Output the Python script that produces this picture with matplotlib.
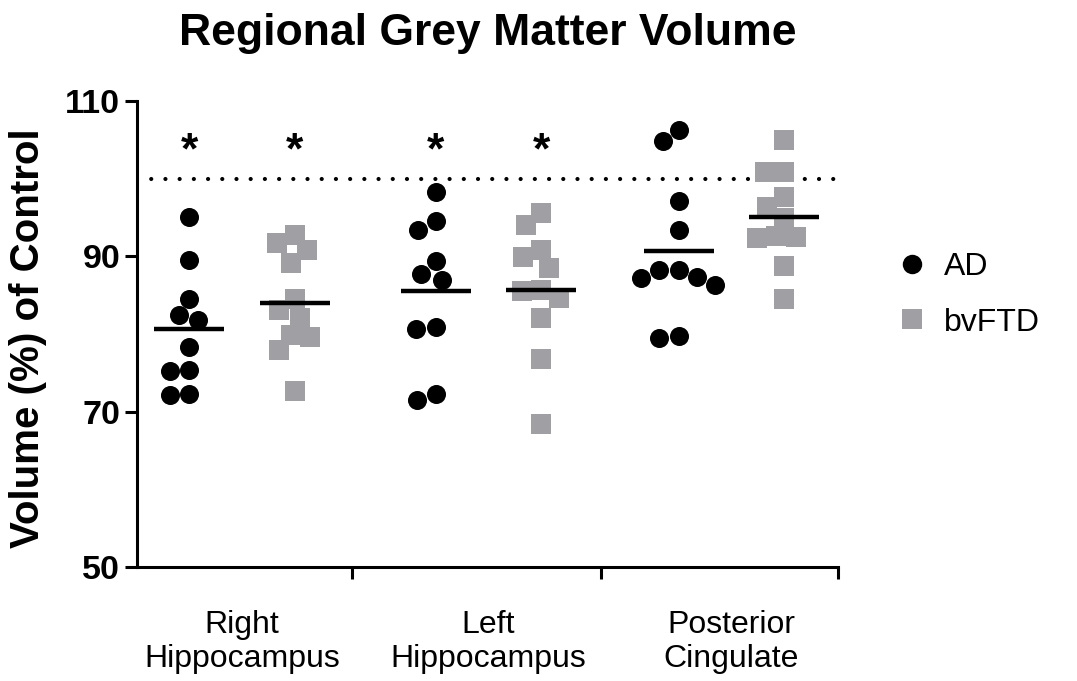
from __future__ import annotations

import matplotlib

matplotlib.use("Agg")
import matplotlib.pyplot as plt
import numpy as np
from matplotlib.lines import Line2D

# ---- data (volume as % of control) ----
regions = ["Right\nHippocampus", "Left\nHippocampus", "Posterior\nCingulate"]
groups = ["AD", "bvFTD"]

rh_ad = [95.0, 89.5, 84.5, 82.4, 81.8, 78.3, 75.2, 75.4, 72.2, 72.3]
rh_bvftd = [92.8, 91.7, 90.8, 89.2, 84.5, 83.1, 82.1, 79.9, 79.6, 77.9, 72.7]
lh_ad = [98.3, 94.5, 93.4, 89.4, 87.7, 87.0, 80.9, 80.7, 72.3, 71.5]
lh_bvftd = [95.6, 94.0, 90.8, 89.9, 88.5, 85.5, 85.7, 84.6, 82.0, 76.8, 68.4]
pc_ad = [106.3, 104.9, 97.1, 93.4, 88.2, 88.2, 87.2, 87.4, 86.3, 79.5, 79.7]
pc_bvftd = [105.0, 100.9, 100.9, 97.6, 96.4, 94.9, 92.6, 92.5, 92.3, 88.7, 84.5]

# significance vs control (asterisk above the group)
significant = [[True, True], [True, True], [False, False]]
control_level = 100

y_ticks = [50, 70, 90, 110]

AD_COLOR = "black"
FTD_COLOR = "#A0A0A4"
FONT = "Liberation Sans"


def swarm_offsets(values, diameter, y_scale):
    """Simple beeswarm: pixel x offsets so markers do not overlap."""
    y = np.asarray(values, dtype=float) * y_scale
    placed = []
    offsets = np.zeros(len(y))
    for i in np.argsort(-y, kind="stable"):
        cands = [0.0]
        for px, py in placed:
            dy = y[i] - py
            if abs(dy) < diameter:
                dx = np.sqrt(diameter**2 - dy**2)
                cands += [px - dx, px + dx]
        for c in sorted(cands, key=abs):
            if all((c - px) ** 2 + (y[i] - py) ** 2 >= diameter**2 - 1e-6 for px, py in placed):
                offsets[i] = c
                placed.append((c, y[i]))
                break
    return offsets


def main() -> None:
    plt.rcParams["font.family"] = [FONT, "DejaVu Sans"]

    data = [[rh_ad, rh_bvftd], [lh_ad, lh_bvftd], [pc_ad, pc_bvftd]]
    centers = np.array([1.0, 2.006, 2.998])
    dodge = 0.215
    boundaries = [1.449, 2.465, 3.433]

    fig = plt.figure(figsize=(10.77, 6.81), dpi=100)
    ax = fig.add_axes([0.1272, 0.1674, 0.6509, 0.6843])
    ax.set_xlim(0.571, 3.433)
    ax.set_ylim(50, 110)

    # pixel scale of the data units
    x_scale = ax.transData.transform((1, 0))[0] - ax.transData.transform((0, 0))[0]
    y_scale = ax.transData.transform((0, 1))[1] - ax.transData.transform((0, 0))[1]

    ax.axhline(control_level, color="black", lw=3.0, linestyle=(0, (0.01, 3.4)),
               dash_capstyle="round", zorder=1)

    styles = [dict(marker="o", color=AD_COLOR), dict(marker="s", color=FTD_COLOR)]
    for r, pair in enumerate(data):
        for g, vals in enumerate(pair):
            xc = centers[r] + (-dodge if g == 0 else dodge)
            offs = swarm_offsets(vals, 19.5, y_scale) / x_scale
            ax.plot(xc + offs, vals, linestyle="none", markersize=13.7,
                    markeredgewidth=0, zorder=3, clip_on=False, **styles[g])
            ax.hlines(np.mean(vals), xc - 0.143, xc + 0.143, color="black",
                      lw=3.2, zorder=4)
            if significant[r][g]:
                ax.text(xc, 101.9, "*", ha="center", va="baseline",
                        fontsize=32, fontweight="bold")

    # axes styling (Prism-like)
    for side in ["top", "right"]:
        ax.spines[side].set_visible(False)
    for side in ["left", "bottom"]:
        ax.spines[side].set_linewidth(2.2)
        ax.spines[side].set_capstyle("projecting")

    ax.set_yticks(y_ticks)
    ax.set_yticklabels([str(t) for t in y_ticks], fontsize=24.5, fontweight="bold")
    ax.tick_params(axis="y", length=8.6, width=2.2, pad=3.5)

    ax.set_xticks(centers)
    ax.set_xticklabels(regions, fontsize=23, linespacing=1.15)
    ax.tick_params(axis="x", which="major", length=0, pad=31)
    ax.set_xticks(boundaries, minor=True)
    ax.tick_params(axis="x", which="minor", length=8.6, width=2.2)

    ax.set_ylabel("Volume (%) of Control", fontsize=29, fontweight="bold")
    ax.yaxis.set_label_coords(-0.155, 0.49)
    ax.yaxis.label.set_verticalalignment("center")

    ax.set_title("Regional Grey Matter Volume", fontsize=32, fontweight="bold", pad=40)

    handles = [
        Line2D([], [], linestyle="none", marker="o", color=AD_COLOR, markersize=14, markeredgewidth=0),
        Line2D([], [], linestyle="none", marker="s", color=FTD_COLOR, markersize=14, markeredgewidth=0),
    ]
    fig.legend(handles, groups, loc="center left", bbox_to_anchor=(0.832, 0.567),
               frameon=False, fontsize=23, handlelength=1.0, handletextpad=0.5,
               labelspacing=0.8, borderpad=0, borderaxespad=0)

    fig.savefig("out.png", dpi=100)
    plt.close(fig)


if __name__ == "__main__":
    main()
